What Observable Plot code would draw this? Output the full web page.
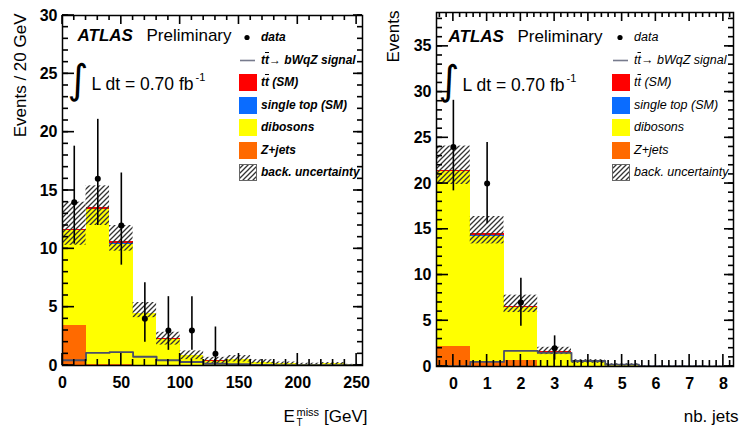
<!DOCTYPE html>
<html>
<head>
<meta charset="utf-8">
<script src="https://cdn.jsdelivr.net/npm/d3@7"></script>
<script src="https://cdn.jsdelivr.net/npm/@observablehq/plot@0.6"></script>
<style>
  body { margin: 0; background: #fff; font-family: "Liberation Sans", Arial, Helvetica, sans-serif; }
  #chart { position: relative; width: 740px; height: 426px; overflow: hidden; }
  .panel { position: absolute; top: 0; width: 370px; height: 426px; }
  .legend { position: absolute; top: 0; font-size: 12px; font-style: italic; color: #000; }
  .legend.bold { font-weight: bold; }
  .legend.light { font-size: 12.5px; }
  .row { position: absolute; left: 0; height: 18px; display: flex; align-items: center; white-space: nowrap; }
  .row svg { flex: none; margin-right: 4px; }
  .ov { text-decoration: overline; }
</style>
</head>
<body>
<div id="chart">
  <div class="panel" id="left" style="left:0"></div>
  <div class="panel" id="right" style="left:370px"></div>
</div>
<script>
// ---- E_T^miss distribution, 20 GeV bins ----
const metEdges = [0, 20, 40, 60, 80, 100, 120, 140, 160, 180, 200, 220, 240, 260];
const metZjets     = [3.4, 0.05, 0.05, 0.02, 0, 0, 0, 0, 0, 0, 0, 0, 0];
const metDibosons  = [8.15, 13.3, 10.35, 4.4, 2.25, 0.85, 0.38, 0.5, 0.28, 0.18, 0.1, 0.14, 0.05];
const metSingleTop = [0.02, 0.05, 0.05, 0.02, 0.01, 0, 0, 0, 0, 0, 0, 0, 0];
const metTtbar     = [0.05, 0.15, 0.15, 0.06, 0.02, 0.01, 0.01, 0.01, 0, 0, 0, 0, 0];
const metBandLo    = [10.3, 12.0, 9.8, 4.1, 1.75, 0.5, 0.15, 0.3, 0.15, 0.1, 0.03, 0.05, 0];
const metBandHi    = [14.0, 15.4, 12.0, 5.4, 2.85, 1.25, 0.7, 0.85, 0.5, 0.3, 0.2, 0.25, 0.1];
const metSignal    = [0.45, 1.08, 1.14, 0.75, 0.45, 0.3, 0.15, 0.12, 0.06, 0.04, 0.03, 0.02, 0.02];
const metData      = [14, 16, 12, 4, 3, 3, 1, 0, 0, 0, 0, 0, 0];
const metDataLo    = [10.4, 12.0, 8.6, 2.0, 1.3, 1.3, 0.2, null, null, null, null, null, null];
const metDataHi    = [18.8, 21.1, 16.5, 7.1, 5.9, 5.9, 3.3, null, null, null, null, null, null];
const metTicksMajor = [0, 50, 100, 150, 200, 250];
const metTicksMinor = [10, 20, 30, 40, 60, 70, 80, 90, 110, 120, 130, 140, 160, 170, 180, 190, 210, 220, 230, 240];
const metYMajor = [0, 5, 10, 15, 20, 25, 30];

// ---- jet multiplicity ----
const jetEdges = [-0.5, 0.5, 1.5, 2.5, 3.5, 4.5, 5.5, 6.5, 7.5, 8.5];
const jetZjets     = [2.2, 0.55, 0.65, 0.05, 0.02, 0, 0, 0, 0];
const jetDibosons  = [19.13, 13.7, 5.8, 1.43, 0.5, 0.15, 0.05, 0.03, 0.02];
const jetSingleTop = [0.02, 0.1, 0.05, 0.02, 0.01, 0, 0, 0, 0];
const jetTtbar     = [0.05, 0.15, 0.1, 0.1, 0.02, 0, 0, 0, 0];
const jetBandLo    = [19.9, 13.4, 5.9, 1.3, 0.35, 0.05, 0, 0, 0];
const jetBandHi    = [24.1, 16.4, 7.8, 2.1, 0.75, 0.3, 0.1, 0.08, 0.05];
const jetSignal    = [0.05, 0.5, 1.7, 1.5, 0.6, 0.2, 0.05, 0.03, 0.02];
const jetData      = [24, 20, 7, 2, 0, 0, 0, 0, 0];
const jetDataLo    = [19.2, 15.6, 4.4, 0.7, null, null, null, null, null];
const jetDataHi    = [29.1, 24.5, 9.65, 3.35, null, null, null, null, null];
const jetTicksMajor = [0, 1, 2, 3, 4, 5, 6, 7, 8];
const jetTicksMinor = [-0.4, -0.2, 0.2, 0.4, 0.6, 0.8, 1.2, 1.4, 1.6, 1.8, 2.2, 2.4, 2.6, 2.8, 3.2, 3.4, 3.6, 3.8,
  4.2, 4.4, 4.6, 4.8, 5.2, 5.4, 5.6, 5.8, 6.2, 6.4, 6.6, 6.8, 7.2, 7.4, 7.6, 7.8, 8.2];
const jetYMajor = [0, 5, 10, 15, 20, 25, 30, 35];

const processes = ["Z+jets", "dibosons", "single top (SM)", "tt (SM)"];
const processColors = ["#ff6a00", "#ffff00", "#0a6cff", "#ff0000"];
const signalColor = "#4a4f68";
const FONT = '"Liberation Sans", Arial, Helvetica, sans-serif';
const W = 370, H = 426;

function range(a, b, s) { const r = []; for (let v = a; v <= b + 1e-9; v += s) r.push(+v.toFixed(6)); return r; }

function histPanel(p) {
  const [mt, mr, mb, ml] = p.margin;
  const pw = W - ml - mr, ph = H - mt - mb;
  const n = p.edges.length - 1;
  const idx = d3.range(n);
  const stackRows = idx.flatMap(i => [
    {x1: p.edges[i], x2: p.edges[i + 1], proc: processes[0], v: p.zjets[i]},
    {x1: p.edges[i], x2: p.edges[i + 1], proc: processes[1], v: p.dibosons[i]},
    {x1: p.edges[i], x2: p.edges[i + 1], proc: processes[2], v: p.singleTop[i]},
    {x1: p.edges[i], x2: p.edges[i + 1], proc: processes[3], v: p.ttbar[i]}
  ]);
  const band = idx.map(i => ({x1: p.edges[i], x2: p.edges[i + 1], lo: p.bandLo[i], hi: p.bandHi[i]}));
  const sig = idx.map(i => ({x: p.edges[i], y: p.signal[i]})).concat([{x: p.edges[n], y: p.signal[n - 1]}]);
  const pts = idx.filter(i => p.data[i] > 0).map(i => ({
    x: (p.edges[i] + p.edges[i + 1]) / 2, y: p.data[i], lo: p.dataLo[i], hi: p.dataHi[i]
  }));

  // ROOT-style ticks inside the frame on all four sides, as thin filled bars;
  // pixel lengths are converted to data units so the plot's scales place them
  const [xa, xb] = p.xDomain, [ya, yb] = p.yDomain;
  const ux = (xb - xa) / pw, uy = (yb - ya) / ph, hw = 0.8;
  const tickRects = [];
  for (const [vals, lenA, lenB] of [[p.yMinor, 6, 5], [p.yMajor, 12, 9]]) {
    for (const v of vals) {
      tickRects.push({x1: xa, x2: xa + lenA * ux, y1: v - hw * uy, y2: v + hw * uy});
      tickRects.push({x1: xb - lenB * ux, x2: xb, y1: v - hw * uy, y2: v + hw * uy});
    }
  }
  for (const [vals, lenA, lenB] of [[p.xMinor, 6, 5], [p.xMajor, 12, 9]]) {
    for (const v of vals) {
      tickRects.push({x1: v - hw * ux, x2: v + hw * ux, y1: ya, y2: ya + lenA * uy});
      tickRects.push({x1: v - hw * ux, x2: v + hw * ux, y1: yb - lenB * uy, y2: yb});
    }
  }

  const lab = {tickSize: 0, fontSize: 16, fontWeight: "bold", label: null, fontFamily: FONT};
  const t = (s, o) => Plot.text([s], {text: d => d, frameAnchor: "top-left", textAnchor: "start",
    lineAnchor: "bottom", fontFamily: FONT, fill: "black", ...o});

  const svg = Plot.plot({
    width: W, height: H,
    marginLeft: ml, marginRight: mr, marginTop: mt, marginBottom: mb,
    x: {domain: p.xDomain},
    y: {domain: p.yDomain},
    color: {domain: processes, range: processColors},
    style: {fontFamily: FONT, background: "transparent", overflow: "visible"},
    marks: [
      Plot.rectY(stackRows, {x1: "x1", x2: "x2", y: "v", fill: "proc", inset: 0, clip: true, shapeRendering: "crispEdges"}),
      Plot.rect(band, {x1: "x1", x2: "x2", y1: "lo", y2: "hi", fill: `url(#${p.id})`, inset: 0, clip: true}),
      Plot.line(sig, {x: "x", y: "y", curve: "step-after", stroke: signalColor, strokeWidth: 1.8, clip: true}),
      Plot.ruleX(pts, {x: "x", y1: "lo", y2: "hi", stroke: "black", strokeWidth: 1.6}),
      Plot.dot(pts, {x: "x", y: "y", r: 3, fill: "black"}),
      Plot.frame({stroke: "black", strokeWidth: 1.5}),
      Plot.rect(tickRects, {x1: "x1", x2: "x2", y1: "y1", y2: "y2", fill: "black", inset: 0}),
      Plot.axisY(p.yMajor, {anchor: "left", tickPadding: 5, ...lab}),
      Plot.axisX(p.xMajor, {anchor: "bottom", tickPadding: 11, ...lab}),
      t("ATLAS", {dx: p.atlas[0], dy: p.atlas[1], fontSize: 17, fontWeight: "bold", fontStyle: "italic"}),
      t("Preliminary", {dx: p.atlas[0] + 69, dy: p.atlas[1], fontSize: 17}),
      t("∫", {dx: p.lumi[0] - 24, dy: p.lumi[1] + 3, fontSize: 40, fontFamily: "DejaVu Sans"}),
      t("L dt = 0.70 fb", {dx: p.lumi[0], dy: p.lumi[1], fontSize: 17.5}),
      t("-1", {dx: p.lumi[0] + 104, dy: p.lumi[1] - 9, fontSize: 11}),
      t(p.yTitle, {dx: p.yTitlePos[0], dy: p.yTitlePos[1], rotate: -90, textAnchor: "end", fontSize: 17})
    ].concat(p.extra)
  });

  // hatching for the background uncertainty band
  const pat = d3.select(svg).insert("defs", ":first-child").append("pattern").attr("id", p.id)
    .attr("patternUnits", "userSpaceOnUse").attr("width", 5).attr("height", 5);
  pat.append("path").attr("d", "M-1,1 l2,-2 M0,5 l5,-5 M4,6 l2,-2")
    .attr("stroke", "#333").attr("stroke-width", 1.3);
  return svg;
}

const xlab = (s, o) => Plot.text([s], {text: d => d, frameAnchor: "bottom-right", lineAnchor: "bottom",
  fontFamily: FONT, fill: "black", ...o});

const left = histPanel({
  id: "hatchMet", edges: metEdges, zjets: metZjets, dibosons: metDibosons, singleTop: metSingleTop, ttbar: metTtbar,
  bandLo: metBandLo, bandHi: metBandHi, signal: metSignal, data: metData, dataLo: metDataLo, dataHi: metDataHi,
  xDomain: [0, 255], yDomain: [0, 30], margin: [15, 8, 61, 62],
  xMajor: metTicksMajor, xMinor: metTicksMinor, yMajor: metYMajor, yMinor: range(0, 30, 1),
  atlas: [15, 25], lumi: [29, 74.5], yTitle: "Events / 20 GeV", yTitlePos: [-37, -2],
  extra: [
    xlab("E", {dx: -79, dy: 56, textAnchor: "start", fontSize: 17}),
    xlab("miss", {dx: -66, dy: 50, textAnchor: "start", fontSize: 11}),
    xlab("T", {dx: -66, dy: 60, textAnchor: "start", fontSize: 10}),
    xlab("[GeV]", {dx: 5, dy: 56, textAnchor: "end", fontSize: 17})
  ]
});
document.getElementById("left").appendChild(left);

const right = histPanel({
  id: "hatchJet", edges: jetEdges, zjets: jetZjets, dibosons: jetDibosons, singleTop: jetSingleTop, ttbar: jetTtbar,
  bandLo: jetBandLo, bandHi: jetBandHi, signal: jetSignal, data: jetData, dataLo: jetDataLo, dataHi: jetDataHi,
  xDomain: [-0.5, 8.3], yDomain: [0, 38.7], margin: [12, 7, 60, 66],
  xMajor: jetTicksMajor, xMinor: jetTicksMinor, yMajor: jetYMajor, yMinor: range(0, 38, 1),
  atlas: [12, 29.5], lumi: [26, 78], yTitle: "Events", yTitlePos: [-38, -2],
  extra: [
    xlab("nb. jets", {dx: 5, dy: 55, textAnchor: "end", fontSize: 17})
  ]
});
document.getElementById("right").appendChild(right);

// ---- legends ----
const legendEntries = [
  {kind: "dot", html: "data"},
  {kind: "line", html: 't<span class="ov">t</span>→ bWqZ signal'},
  {kind: "box", color: processColors[3], html: 't<span class="ov">t</span> (SM)'},
  {kind: "box", color: processColors[2], html: "single top (SM)"},
  {kind: "box", color: processColors[1], html: "dibosons"},
  {kind: "box", color: processColors[0], html: "Z+jets"},
  {kind: "hatch", html: "back. uncertainty"}
];
const legendRowTops = [28, 51, 73, 96, 118, 141, 163];

function swatch(e, pid) {
  const s = '<svg width="18" height="17" viewBox="0 0 18 17">';
  if (e.kind === "dot") return s + '<circle cx="8" cy="8.5" r="2.6" fill="black"/></svg>';
  if (e.kind === "line") return s + `<line x1="1" x2="16" y1="8.5" y2="8.5" stroke="${signalColor}" stroke-width="1.6" opacity="0.75"/></svg>`;
  if (e.kind === "box") return s + `<rect x="0" y="0" width="18" height="17" fill="${e.color}"/></svg>`;
  return s + `<defs><pattern id="${pid}" patternUnits="userSpaceOnUse" width="5" height="5">` +
    '<path d="M-1,1 l2,-2 M0,5 l5,-5 M4,6 l2,-2" stroke="#333" stroke-width="1.3"/></pattern></defs>' +
    `<rect x="0.5" y="0.5" width="17" height="16" fill="url(#${pid})" stroke="#666" stroke-width="1"/></svg>`;
}

function legend(container, leftPx, cls, pid) {
  const div = document.createElement("div");
  div.className = "legend " + cls;
  div.style.left = leftPx + "px";
  div.innerHTML = legendEntries.map((e, i) =>
    `<div class="row" style="top:${legendRowTops[i]}px">${swatch(e, pid)}<span>${e.html}</span></div>`).join("");
  container.appendChild(div);
}
legend(document.getElementById("left"), 239, "bold", "legHatchL");
legend(document.getElementById("right"), 242, "light", "legHatchR");
</script>
</body>
</html>
